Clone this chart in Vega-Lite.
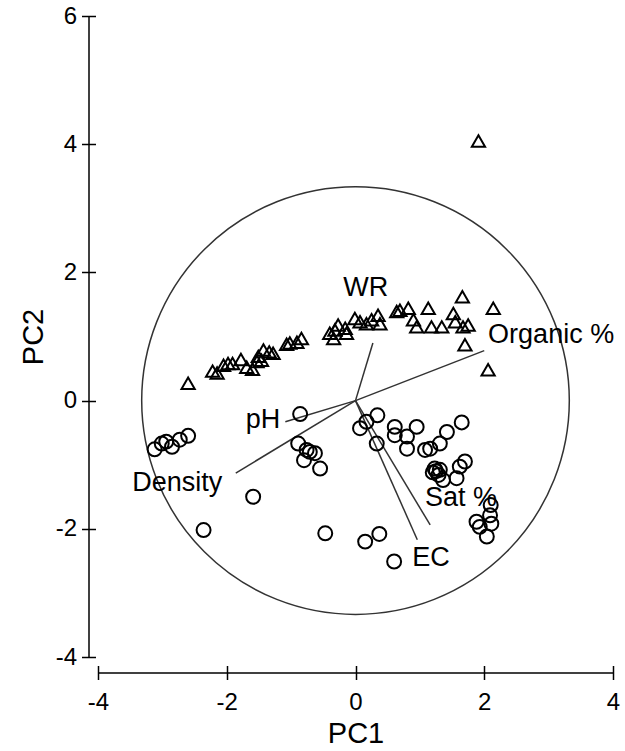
{
  "$schema": "https://vega.github.io/schema/vega-lite/v6.json",
  "width": 515,
  "height": 641,
  "autosize": "none",
  "padding": {"left": 98, "top": 16, "right": 12, "bottom": 94},
  "background": "white",
  "config": {"view": {"stroke": null}, "font": "Liberation Sans"},
  "datasets": {
    "triangles": [
      {"pc1": -2.60, "pc2": 0.27}, {"pc1": -2.22, "pc2": 0.46}, {"pc1": -2.15, "pc2": 0.43},
      {"pc1": -2.05, "pc2": 0.55}, {"pc1": -1.98, "pc2": 0.58}, {"pc1": -1.91, "pc2": 0.58},
      {"pc1": -1.78, "pc2": 0.64}, {"pc1": -1.69, "pc2": 0.52}, {"pc1": -1.60, "pc2": 0.49},
      {"pc1": -1.53, "pc2": 0.61}, {"pc1": -1.51, "pc2": 0.69}, {"pc1": -1.43, "pc2": 0.79},
      {"pc1": -1.34, "pc2": 0.76}, {"pc1": -1.28, "pc2": 0.74}, {"pc1": -1.46, "pc2": 0.63},
      {"pc1": -1.07, "pc2": 0.88}, {"pc1": -1.02, "pc2": 0.90}, {"pc1": -0.84, "pc2": 0.97},
      {"pc1": -0.91, "pc2": 0.91}, {"pc1": -0.40, "pc2": 1.05}, {"pc1": -0.32, "pc2": 1.10},
      {"pc1": -0.27, "pc2": 1.18}, {"pc1": -0.16, "pc2": 1.13}, {"pc1": -0.34, "pc2": 0.97},
      {"pc1": -0.14, "pc2": 1.05}, {"pc1": -0.01, "pc2": 1.28}, {"pc1": 0.07, "pc2": 1.23},
      {"pc1": 0.17, "pc2": 1.20}, {"pc1": 0.25, "pc2": 1.26}, {"pc1": 0.35, "pc2": 1.33},
      {"pc1": 0.38, "pc2": 1.20}, {"pc1": 0.64, "pc2": 1.39}, {"pc1": 0.69, "pc2": 1.41},
      {"pc1": 0.82, "pc2": 1.44}, {"pc1": 0.90, "pc2": 1.26}, {"pc1": 0.95, "pc2": 1.15},
      {"pc1": 1.13, "pc2": 1.44}, {"pc1": 1.18, "pc2": 1.15}, {"pc1": 1.34, "pc2": 1.15},
      {"pc1": 1.52, "pc2": 1.36}, {"pc1": 1.55, "pc2": 1.23}, {"pc1": 1.66, "pc2": 1.62},
      {"pc1": 1.67, "pc2": 1.15}, {"pc1": 1.75, "pc2": 1.18}, {"pc1": 1.70, "pc2": 0.87},
      {"pc1": 2.14, "pc2": 1.44}, {"pc1": 2.06, "pc2": 0.48}, {"pc1": 1.91, "pc2": 4.05}
    ],
    "circles": [
      {"pc1": -0.86, "pc2": -0.21}, {"pc1": -3.12, "pc2": -0.76}, {"pc1": -3.01, "pc2": -0.67},
      {"pc1": -2.94, "pc2": -0.64}, {"pc1": -2.85, "pc2": -0.72}, {"pc1": -2.73, "pc2": -0.61},
      {"pc1": -2.60, "pc2": -0.55}, {"pc1": -0.89, "pc2": -0.67}, {"pc1": -0.76, "pc2": -0.77},
      {"pc1": -0.71, "pc2": -0.80}, {"pc1": -0.63, "pc2": -0.82}, {"pc1": -0.80, "pc2": -0.93},
      {"pc1": -0.55, "pc2": -1.06}, {"pc1": -1.59, "pc2": -1.50}, {"pc1": -2.36, "pc2": -2.02},
      {"pc1": -0.47, "pc2": -2.07}, {"pc1": 0.34, "pc2": -0.23}, {"pc1": 0.07, "pc2": -0.43},
      {"pc1": 0.17, "pc2": -0.33}, {"pc1": 0.33, "pc2": -0.67}, {"pc1": 0.61, "pc2": -0.41},
      {"pc1": 0.61, "pc2": -0.54}, {"pc1": 0.80, "pc2": -0.56}, {"pc1": 0.95, "pc2": -0.41},
      {"pc1": 0.80, "pc2": -0.75}, {"pc1": 1.08, "pc2": -0.77}, {"pc1": 1.16, "pc2": -0.75},
      {"pc1": 1.31, "pc2": -0.67}, {"pc1": 1.42, "pc2": -0.49}, {"pc1": 1.65, "pc2": -0.34},
      {"pc1": 1.23, "pc2": -1.06}, {"pc1": 1.31, "pc2": -1.08}, {"pc1": 1.29, "pc2": -1.16},
      {"pc1": 1.36, "pc2": -1.24}, {"pc1": 1.57, "pc2": -1.21}, {"pc1": 1.62, "pc2": -1.03},
      {"pc1": 1.70, "pc2": -0.95}, {"pc1": 1.25, "pc2": -1.10}, {"pc1": 1.20, "pc2": -1.12},
      {"pc1": 1.88, "pc2": -1.89}, {"pc1": 1.93, "pc2": -1.97}, {"pc1": 2.04, "pc2": -2.12},
      {"pc1": 2.11, "pc2": -1.92}, {"pc1": 2.09, "pc2": -1.79}, {"pc1": 2.10, "pc2": -1.63},
      {"pc1": 0.15, "pc2": -2.20}, {"pc1": 0.37, "pc2": -2.08}, {"pc1": 0.60, "pc2": -2.51}
    ],
    "vectors": [
      {"variable": "WR", "x0": 0, "y0": 0, "x1": 0.27, "y1": 0.90},
      {"variable": "Organic %", "x0": 0, "y0": 0, "x1": 2.0, "y1": 0.78},
      {"variable": "pH", "x0": 0, "y0": 0, "x1": -1.09, "y1": -0.33},
      {"variable": "Density", "x0": 0, "y0": 0, "x1": -1.86, "y1": -1.13},
      {"variable": "Sat %", "x0": 0, "y0": 0, "x1": 1.16, "y1": -1.94},
      {"variable": "EC", "x0": 0, "y0": 0, "x1": 0.96, "y1": -2.17}
    ],
    "labelsLeft": [
      {"label": "Organic %", "x": 2.06, "y": 1.03},
      {"label": "Sat %", "x": 1.08, "y": -1.52},
      {"label": "EC", "x": 0.88, "y": -2.46},
      {"label": "WR", "x": -0.19, "y": 1.75}
    ],
    "labelsRight": [
      {"label": "pH", "x": -1.17, "y": -0.30},
      {"label": "Density", "x": -2.07, "y": -1.29}
    ],
    "center": [{"x": 0, "y": 0}]
  },
  "resolve": {"axis": {"x": "independent", "y": "independent"}},
  "layer": [
    {
      "data": {"name": "center"},
      "mark": {"type": "point", "shape": "circle", "filled": false, "size": 182850, "stroke": "#333333", "strokeWidth": 1.5, "opacity": 1},
      "encoding": {
        "x": {"field": "x", "type": "quantitative",
          "scale": {"domain": [-4, 4], "nice": false, "zero": false},
          "axis": {"orient": "bottom", "offset": 8.5, "domain": false, "grid": false,
            "values": [-4, -2, 0, 2, 4], "tickSize": 14, "tickWidth": 1.5, "tickColor": "black",
            "labelExpr": "'' + datum.value",
            "labelFont": "Liberation Sans", "labelFontSize": 24, "labelColor": "black", "labelPadding": 11, "labelFlush": false,
            "title": "PC1", "titleFont": "Liberation Sans", "titleFontSize": 29, "titleFontWeight": "normal", "titleColor": "black", "titlePadding": 5}},
        "y": {"field": "y", "type": "quantitative",
          "scale": {"domain": [-4, 6], "nice": false, "zero": false},
          "axis": {"orient": "left", "offset": 2.5, "domain": false, "grid": false,
            "values": [-4, -2, 0, 2, 4, 6], "tickSize": 14, "tickWidth": 1.5, "tickColor": "black",
            "labelExpr": "'' + datum.value",
            "labelFont": "Liberation Sans", "labelFontSize": 24, "labelColor": "black", "labelPadding": 5, "labelFlush": false,
            "title": "PC2", "titleFont": "Liberation Sans", "titleFontSize": 29, "titleFontWeight": "normal", "titleColor": "black", "titlePadding": 7}}
      }
    },
    {
      "data": {"name": "vectors"},
      "mark": {"type": "rule", "stroke": "#333333", "strokeWidth": 1.5},
      "encoding": {
        "x": {"field": "x0", "type": "quantitative",
          "axis": {"orient": "bottom", "offset": 15.5, "domain": true, "domainColor": "black", "domainWidth": 1.5,
            "ticks": false, "labels": false, "grid": false, "title": null}},
        "y": {"field": "y0", "type": "quantitative",
          "axis": {"orient": "left", "offset": 9.5, "domain": true, "domainColor": "black", "domainWidth": 1.5,
            "ticks": false, "labels": false, "grid": false, "title": null}},
        "x2": {"field": "x1"},
        "y2": {"field": "y1"}
      }
    },
    {
      "data": {"name": "triangles"},
      "mark": {"type": "point", "shape": "triangle-up", "filled": false, "size": 175, "stroke": "black", "strokeWidth": 2, "opacity": 1},
      "encoding": {
        "x": {"field": "pc1", "type": "quantitative", "axis": null},
        "y": {"field": "pc2", "type": "quantitative", "axis": null}
      }
    },
    {
      "data": {"name": "circles"},
      "mark": {"type": "point", "shape": "circle", "filled": false, "size": 195, "stroke": "black", "strokeWidth": 2, "opacity": 1},
      "encoding": {
        "x": {"field": "pc1", "type": "quantitative", "axis": null},
        "y": {"field": "pc2", "type": "quantitative", "axis": null}
      }
    },
    {
      "data": {"name": "labelsLeft"},
      "mark": {"type": "text", "align": "left", "baseline": "middle", "font": "Liberation Sans", "fontSize": 27, "color": "black"},
      "encoding": {
        "x": {"field": "x", "type": "quantitative", "axis": null},
        "y": {"field": "y", "type": "quantitative", "axis": null},
        "text": {"field": "label"}
      }
    },
    {
      "data": {"name": "labelsRight"},
      "mark": {"type": "text", "align": "right", "baseline": "middle", "font": "Liberation Sans", "fontSize": 27, "color": "black"},
      "encoding": {
        "x": {"field": "x", "type": "quantitative", "axis": null},
        "y": {"field": "y", "type": "quantitative", "axis": null},
        "text": {"field": "label"}
      }
    }
  ]
}
